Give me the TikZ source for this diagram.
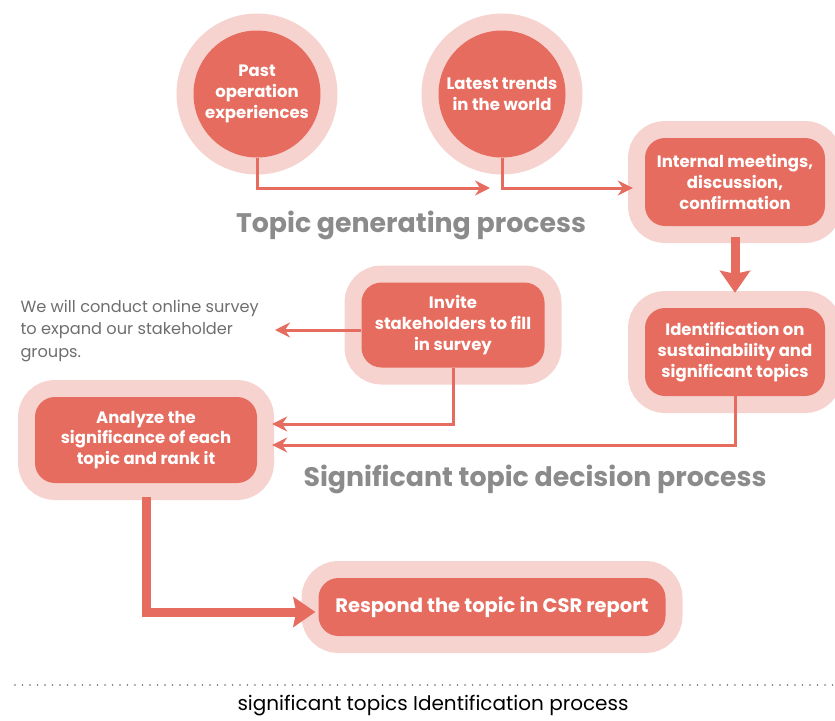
\documentclass[tikz,border=0pt]{standalone}
\usepackage{fontspec}
\setmainfont{Poppins}
\usetikzlibrary{arrows.meta}
\definecolor{salmon}{HTML}{E66C5F}
\definecolor{blush}{HTML}{F6D3CF}
\definecolor{titlegray}{HTML}{8B8B8B}
\definecolor{notegray}{HTML}{6E6E6E}
\def\boxfont{\fontsize{16.5}{20.8}\selectfont\bfseries}
\tikzset{
	ring/.style={fill=salmon, text=white, font=\boxfont, align=center, inner sep=0pt, preaction={draw=blush, line width=34pt}},
	disc/.style={ring, circle, minimum size=127pt},
	card/.style={ring, rounded corners=20pt, minimum width=#1, minimum height=88pt},
	flow/.style={draw=salmon, line width=3pt, -{Stealth[length=15pt,width=15pt,inset=5pt]}},
	bigflow/.style={draw=salmon, line width=9pt, -{Stealth[length=22pt,width=30pt,inset=3pt]}},
	heading/.style={text=titlegray, font=\fontsize{26.8}{30}\selectfont\bfseries}
}

\begin{document}
\begin{tikzpicture}[x=1pt, y=-1pt]
				\useasboundingbox (0,0) rectangle (835,720);
				
				\node[disc] (past) at (257,94) {Past\\operation\\experiences};
				\node[disc] (trends) at (502,94) {Latest trends\\in the world};
				\node[card=180pt] (meet) at (735,182) {Internal meetings,\\discussion,\\confirmation};
				\node[card=180pt] (ident) at (735,352) {Identification on\\sustainability and\\significant topics};
				\node[card=183pt, minimum height=85pt] (invite) at (453,325) {Invite\\stakeholders to fill\\in survey};
				\node[card=222pt, minimum height=86pt] (analyze) at (146,440) {Analyze the\\significance of each\\topic and rank it};
				\node[card=347pt, minimum height=58pt, font=\fontsize{19.5}{22}\selectfont\bfseries] (respond) at (492,607) {Respond the topic in CSR report};
				
				\node[anchor=west, align=left, text=notegray, font=\fontsize{16.2}{22.5}\selectfont] (note) at (17,331) {We will conduct online survey\\to expand our stakeholder\\groups.};
				\node[heading] (gen) at (411,225) {Topic generating process};
				\node[heading] (dec) at (535,479) {Significant topic decision process};
				
				\coordinate (genend) at (490,188);
				\coordinate (noteend) at (275,330);
				
				\draw[flow] (past.south) |- (genend);
				\draw[flow] (trends.south) |- ([xshift=-12pt,yshift=-6pt]meet.west);
				\draw[bigflow] ([yshift=-11pt]meet.south) -- ([yshift=15pt]ident.north);
				\draw[flow] ([yshift=-5pt]invite.west) -- (noteend);
				\draw[flow] (invite.south) |- ([xshift=15pt,yshift=16pt]analyze.east);
				\draw[flow] (ident.south) |- ([xshift=15pt,yshift=-5pt]analyze.east);
				\draw[bigflow] ([yshift=-14pt]analyze.south) |- ([xshift=-3pt,yshift=-5pt]respond.west);
				
				\draw[notegray, line width=1.8pt, line cap=round, dash pattern=on 0pt off 7.5pt] (15,685) -- (835,685);
				\node[font=\fontsize{20}{22}\selectfont] (caption) at (433,706) {significant topics Identification process};
			\end{tikzpicture}
\end{document}
